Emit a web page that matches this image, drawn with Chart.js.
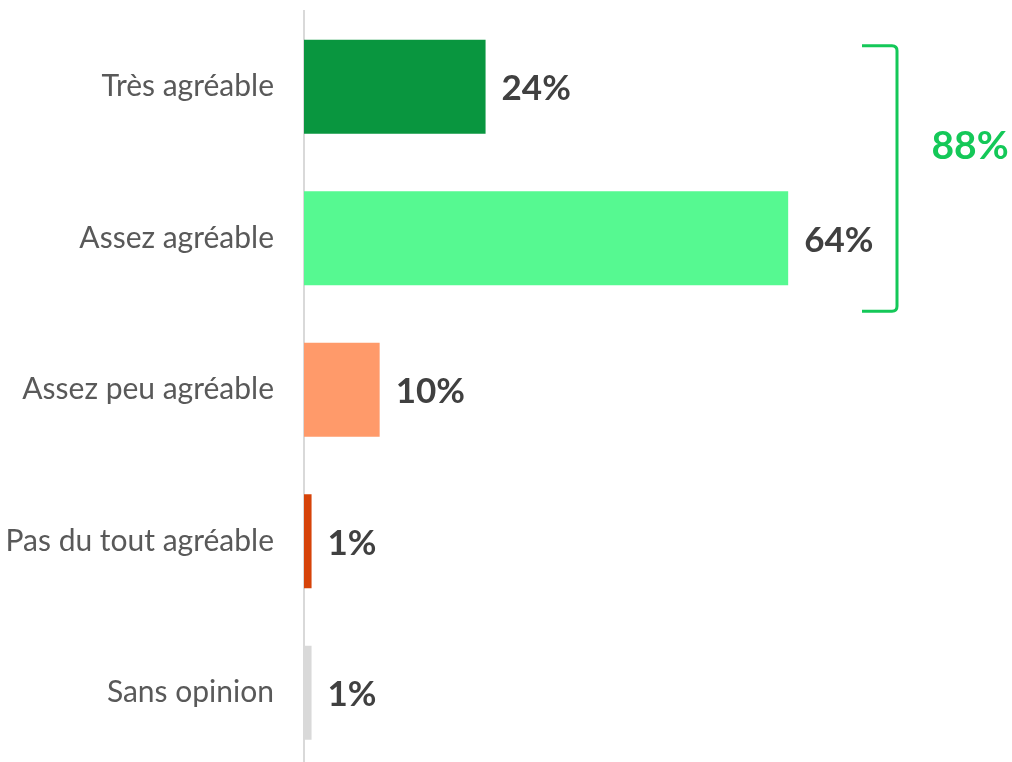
<!DOCTYPE html>
<html>
<head>
<meta charset="utf-8">
<script src="https://cdn.jsdelivr.net/npm/chart.js@4.4.1/dist/chart.umd.min.js"></script>
<style>
  html, body { margin: 0; padding: 0; background: #fff; overflow: hidden; }
  #wrap { width: 1012px; height: 779px; }
</style>
</head>
<body>
<div id="wrap"><canvas id="myChart"></canvas></div>
<script>
var categories = ['Très agréable', 'Assez agréable', 'Assez peu agréable', 'Pas du tout agréable', 'Sans opinion'];
var values = [24, 64, 10, 1, 1];
var barColors = ['#09963f', '#56f991', '#ff9a6a', '#d64309', '#d9d9d9'];
var groupLabel = '88%';   // Très + Assez agréable
var groupFrom = 0, groupTo = 1;

// value labels to the right of each bar
var valueLabels = {
    id: 'valueLabels',
    afterDatasetsDraw: function(chart) {
        var ctx = chart.ctx;
        var meta = chart.getDatasetMeta(0);
        ctx.save();
        ctx.font = 'bold 35px Lato';
        ctx.fillStyle = '#404040';
        ctx.textBaseline = 'middle';
        ctx.textAlign = 'left';
        meta.data.forEach(function(bar, i) {
            ctx.fillText(values[i] + '%', bar.x + 16, bar.y + 2);
        });
        ctx.restore();
    }
};

// green bracket grouping the two positive answers
var bracket = {
    id: 'bracket',
    afterDraw: function(chart) {
        var ctx = chart.ctx;
        var y = chart.scales.y;
        var top = y.getPixelForValue(groupFrom) - 41;
        var bottom = y.getPixelForValue(groupTo) + 73;
        var x = 897, x0 = 862, r = 5;
        ctx.save();
        ctx.strokeStyle = '#14c858';
        ctx.lineWidth = 3;
        ctx.beginPath();
        ctx.moveTo(x0, top);
        ctx.lineTo(x - r, top);
        ctx.quadraticCurveTo(x, top, x, top + r);
        ctx.lineTo(x, bottom - r);
        ctx.quadraticCurveTo(x, bottom, x - r, bottom);
        ctx.lineTo(x0, bottom);
        ctx.stroke();
        ctx.font = 'bold 39px Lato';
        ctx.fillStyle = '#14c858';
        ctx.textAlign = 'center';
        ctx.textBaseline = 'middle';
        ctx.fillText(groupLabel, 970, (top + bottom) / 2 - 32);
        ctx.restore();
    }
};

var ctx = document.getElementById('myChart').getContext('2d');
var myChart = new Chart(ctx, {
    type: 'bar',
    data: {
        labels: categories,
        datasets: [{
            data: values,
            backgroundColor: barColors,
            barPercentage: 0.62,
            categoryPercentage: 1
        }]
    },
    options: {
        indexAxis: 'y',
        responsive: true,
        maintainAspectRatio: false,
        animation: false,
        layout: { padding: { top: 11, right: 12, bottom: 0, left: 0 } },
        plugins: {
            legend: { display: false },
            tooltip: { enabled: false }
        },
        scales: {
            x: {
                min: 0,
                max: 92,
                display: false
            },
            y: {
                afterFit: function(scale) { scale.width = 304; },
                grid: { display: false, drawTicks: true, tickLength: 30 },
                border: { display: true, color: '#d9d9d9', width: 2 },
                ticks: {
                    padding: 0,
                    color: '#595959',
                    font: { family: 'Lato', size: 30, lineHeight: 0.7 }
                }
            }
        }
    },
    plugins: [valueLabels, bracket]
});
</script>
</body>
</html>
